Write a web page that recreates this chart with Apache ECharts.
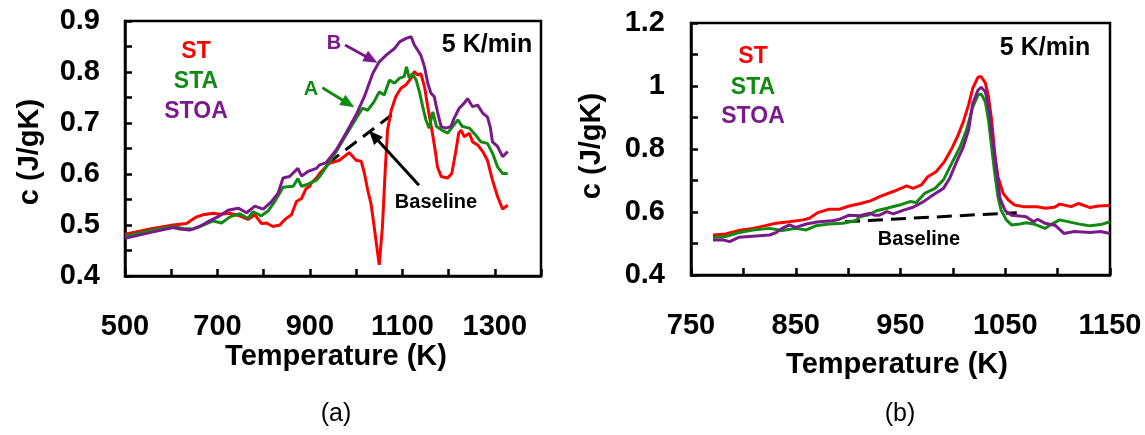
<!DOCTYPE html>
<html>
<head>
<meta charset="utf-8">
<script src="https://cdn.jsdelivr.net/npm/echarts@6/dist/echarts.min.js"></script>
<style>
html,body{margin:0;padding:0;background:#fff;}
#chart{width:1145px;height:435px;}
</style>
</head>
<body>
<div id="chart"></div>
<script>
// ---------- DATA ----------
// Panel (a): temperature (K), c (J/gK)
const aST = [[500,0.482],[554,0.492],[604,0.500],[633,0.503],[655,0.516],[669,0.520],[691,0.523],[705,0.521],[727,0.523],[748,0.518],[766,0.511],[781,0.520],[795,0.503],[806,0.504],[820,0.497],[835,0.500],[846,0.511],[860,0.520],[871,0.546],[882,0.552],[892,0.572],[899,0.575],[903,0.582],[914,0.592],[921,0.601],[942,0.621],[964,0.627],[985,0.642],[1000,0.627],[1011,0.625],[1018,0.601],[1025,0.569],[1032,0.543],[1039,0.497],[1050,0.422],[1057,0.497],[1063,0.608],[1068,0.686],[1076,0.725],[1086,0.752],[1097,0.768],[1108,0.775],[1119,0.788],[1126,0.801],[1133,0.794],[1140,0.797],[1148,0.771],[1155,0.732],[1164,0.686],[1171,0.647],[1176,0.614],[1184,0.595],[1198,0.592],[1207,0.601],[1215,0.641],[1222,0.680],[1227,0.686],[1234,0.673],[1245,0.680],[1252,0.663],[1263,0.657],[1274,0.644],[1284,0.627],[1295,0.588],[1306,0.556],[1317,0.531],[1328,0.539]];
const aSTA = [[500,0.478],[554,0.489],[604,0.497],[626,0.493],[647,0.492],[669,0.500],[691,0.508],[709,0.504],[727,0.516],[748,0.522],[766,0.513],[777,0.526],[795,0.518],[810,0.528],[824,0.546],[842,0.574],[864,0.576],[874,0.591],[882,0.576],[896,0.580],[914,0.588],[921,0.595],[935,0.614],[957,0.644],[978,0.676],[1000,0.709],[1014,0.729],[1025,0.725],[1039,0.742],[1050,0.761],[1061,0.755],[1072,0.784],[1083,0.778],[1094,0.788],[1104,0.791],[1109,0.810],[1115,0.788],[1122,0.797],[1130,0.784],[1137,0.761],[1144,0.732],[1151,0.706],[1158,0.690],[1166,0.722],[1174,0.693],[1186,0.686],[1198,0.680],[1209,0.693],[1220,0.706],[1230,0.693],[1245,0.690],[1259,0.676],[1270,0.663],[1284,0.660],[1295,0.641],[1306,0.614],[1317,0.601],[1328,0.601]];
const aSTOA = [[500,0.474],[554,0.485],[604,0.495],[618,0.492],[640,0.490],[662,0.497],[683,0.508],[705,0.518],[723,0.529],[745,0.533],[763,0.524],[781,0.537],[799,0.531],[817,0.546],[831,0.562],[842,0.592],[856,0.595],[874,0.611],[882,0.596],[896,0.605],[914,0.611],[921,0.618],[935,0.622],[957,0.647],[978,0.680],[1000,0.716],[1018,0.752],[1036,0.797],[1050,0.820],[1065,0.833],[1083,0.846],[1094,0.859],[1108,0.866],[1119,0.869],[1126,0.853],[1133,0.843],[1140,0.833],[1148,0.810],[1155,0.778],[1162,0.758],[1169,0.752],[1176,0.722],[1184,0.693],[1194,0.690],[1205,0.693],[1212,0.709],[1223,0.729],[1234,0.739],[1241,0.748],[1252,0.732],[1263,0.735],[1274,0.719],[1284,0.712],[1290,0.693],[1295,0.663],[1306,0.654],[1317,0.634],[1328,0.644]];
const aBaseline = [[939,0.621],[1086,0.722]];
const aArrowB = [[976,0.853],[1046,0.818]];
const aArrowA = [[927,0.769],[996,0.731]];
const aArrowBase = [[1136,0.578],[1028,0.685]];

// Panel (b)
const bST = [[771,0.527],[783,0.530],[795,0.541],[809,0.548],[820,0.556],[831,0.564],[844,0.569],[857,0.575],[863,0.580],[871,0.598],[882,0.609],[892,0.609],[901,0.619],[911,0.626],[922,0.636],[930,0.649],[943,0.665],[956,0.683],[962,0.675],[970,0.686],[976,0.712],[984,0.728],[992,0.760],[999,0.802],[1005,0.844],[1010,0.887],[1015,0.940],[1019,0.993],[1024,1.028],[1027,1.030],[1031,1.009],[1034,0.966],[1037,0.892],[1040,0.786],[1043,0.712],[1048,0.659],[1053,0.638],[1059,0.622],[1067,0.617],[1080,0.617],[1088,0.612],[1097,0.615],[1102,0.625],[1113,0.617],[1120,0.627],[1131,0.614],[1139,0.619],[1150,0.621]];
const bSTA = [[771,0.520],[783,0.522],[795,0.534],[809,0.543],[825,0.548],[837,0.541],[850,0.548],[860,0.543],[869,0.556],[882,0.562],[895,0.564],[907,0.572],[911,0.585],[919,0.590],[927,0.604],[937,0.612],[949,0.622],[959,0.633],[965,0.630],[973,0.659],[983,0.675],[991,0.702],[999,0.755],[1007,0.807],[1013,0.860],[1019,0.934],[1024,0.971],[1027,0.975],[1031,0.950],[1034,0.892],[1037,0.807],[1040,0.723],[1043,0.649],[1046,0.606],[1051,0.575],[1056,0.559],[1064,0.562],[1070,0.566],[1077,0.562],[1088,0.548],[1093,0.559],[1102,0.575],[1113,0.567],[1123,0.560],[1131,0.556],[1141,0.560],[1150,0.569]];
const bSTOA = [[771,0.511],[780,0.512],[787,0.506],[796,0.520],[812,0.524],[825,0.527],[831,0.534],[837,0.548],[844,0.559],[850,0.551],[860,0.562],[872,0.569],[885,0.572],[892,0.577],[901,0.590],[911,0.588],[921,0.596],[925,0.590],[930,0.590],[937,0.601],[943,0.594],[953,0.606],[962,0.615],[972,0.633],[981,0.654],[991,0.675],[997,0.707],[1003,0.755],[1010,0.807],[1015,0.860],[1019,0.945],[1024,0.987],[1027,0.996],[1031,0.982],[1035,0.918],[1038,0.829],[1042,0.723],[1045,0.643],[1050,0.604],[1056,0.590],[1064,0.587],[1070,0.585],[1077,0.569],[1081,0.577],[1088,0.564],[1098,0.557],[1106,0.532],[1116,0.538],[1131,0.535],[1141,0.538],[1150,0.532]];
const bBaseline = [[897,0.569],[1061,0.598]];

const seriesNames = ['ST','STA','STOA'];
const xTitle = 'Temperature (K)';
const yTitle = 'c (J/gK)';
const rateText = '5 K/min';
const panelLabels = ['(a)','(b)'];

// ---------- STYLE ----------
const RED = '#ff0000', GREEN = '#108a10', PURPLE = '#7a1a8a';
const FONT = "'Liberation Sans', Arial, sans-serif";
const TICK_FS = 29;
const chart = echarts.init(document.getElementById('chart'), null, {renderer:'canvas'});

function xAxis(grid, min, max, interval, labelEvery) {
  return {
    type:'value', gridIndex:grid, min:min, max:max, interval:interval,
    axisLine:{show:true, onZero:false, lineStyle:{color:'#000', width:2.5}},
    axisTick:{show:true, inside:true, length:7, lineStyle:{color:'#000', width:2.5}},
    splitLine:{show:false},
    axisLabel:{margin:36, color:'#000', fontFamily:FONT, fontWeight:'bold', fontSize:TICK_FS,
      showMaxLabel:true, showMinLabel:true,
      formatter:function(v){ return (Math.round(v-min) % labelEvery === 0) ? String(Math.round(v)) : ''; }}
  };
}
function yAxis(grid, min, max, interval, labelStep, margin) {
  return {
    type:'value', gridIndex:grid, min:min, max:max, interval:interval,
    axisLine:{show:true, onZero:false, lineStyle:{color:'#000', width:2.5}},
    axisTick:{show:true, inside:true, length:7, lineStyle:{color:'#000', width:2.5}},
    splitLine:{show:false},
    axisLabel:{margin:margin, color:'#000', fontFamily:FONT, fontWeight:'bold', fontSize:TICK_FS,
      showMaxLabel:true, showMinLabel:true,
      formatter:function(v){
        const k = Math.round(v*100);
        return (k % labelStep === 0) ? String(Math.round(v*10)/10) : '';
      }}
  };
}
function line(name, data, color, xi, width) {
  return {
    name:name, type:'line', xAxisIndex:xi, yAxisIndex:xi, data:data,
    showSymbol:false, symbol:'none', smooth:false, silent:true,
    lineStyle:{color:color, width:width||3}, itemStyle:{color:color},
    emphasis:{disabled:true}, animation:false
  };
}
function txt(x, y, text, color, size, weight, rot) {
  return {type:'text', x:x, y:y, rotation:rot||0, silent:true, z:100,
    style:{text:text, x:0, y:0, fill:color, font:(weight||'bold')+' '+size+'px '+FONT,
      align:'center', verticalAlign:'middle', textAlign:'center', textVerticalAlign:'middle'}};
}

const baseA = line('Baseline', aBaseline, '#000', 0, 3);
baseA.lineStyle.type = [14, 8];
const baseB = line('Baseline', bBaseline, '#000', 1, 3);
baseB.lineStyle.type = [15, 8];

const graphics = [
  // panel (a)
  txt(336, 357, xTitle, '#000', 29),
  txt(30, 152, yTitle, '#000', 29, 'bold', Math.PI/2),
  txt(196, 52, seriesNames[0], RED, 23),
  txt(196, 82, seriesNames[1], GREEN, 23),
  txt(196, 112, seriesNames[2], PURPLE, 23),
  txt(487, 45, rateText, '#000', 25),
  txt(334, 43, 'B', PURPLE, 20),
  txt(311, 89, 'A', GREEN, 20),
  txt(436, 202, 'Baseline', '#000', 20),
  txt(336, 414, panelLabels[0], '#000', 25, 'normal'),
  // panel (b)
  txt(897, 365, xTitle, '#000', 29),
  txt(592, 146, yTitle, '#000', 29, 'bold', Math.PI/2),
  txt(753, 57, seriesNames[0], RED, 23),
  txt(753, 88, seriesNames[1], GREEN, 23),
  txt(753, 117, seriesNames[2], PURPLE, 23),
  txt(1045, 48, rateText, '#000', 25),
  txt(919, 239, 'Baseline', '#000', 20),
  txt(900, 414, panelLabels[1], '#000', 25, 'normal')
];

const option = {
  animation:false,
  backgroundColor:'#fff',
  grid:[
    {left:125, top:21, width:416, height:255, show:true, borderColor:'#000', borderWidth:2.5, backgroundColor:'transparent'},
    {left:691, top:23, width:419, height:252, show:true, borderColor:'#000', borderWidth:2.5, backgroundColor:'transparent'}
  ],
  xAxis:[ xAxis(0, 500, 1400, 100, 200), xAxis(1, 750, 1150, 50, 100) ],
  yAxis:[ yAxis(0, 0.4, 0.9, 0.05, 10, 25), yAxis(1, 0.4, 1.2, 0.1, 20, 26) ],
  series:[baseA, line(seriesNames[0], aST, RED, 0), line(seriesNames[1], aSTA, GREEN, 0), line(seriesNames[2], aSTOA, PURPLE, 0),
          baseB, line(seriesNames[0], bST, RED, 1), line(seriesNames[1], bSTA, GREEN, 1), line(seriesNames[2], bSTOA, PURPLE, 1)],
  graphic:graphics
};
chart.setOption(option);

// arrows placed through the axes' own scales
function arrowGraphic(pts, color, gi) {
  const p0 = chart.convertToPixel({xAxisIndex:gi, yAxisIndex:gi}, pts[0]);
  const p1 = chart.convertToPixel({xAxisIndex:gi, yAxisIndex:gi}, pts[1]);
  const dx = p1[0]-p0[0], dy = p1[1]-p0[1];
  const len = Math.sqrt(dx*dx+dy*dy);
  const ux = dx/len, uy = dy/len, nx = -uy, ny = ux;
  const L = 14, W = 12;
  const bx = p1[0]-ux*L, by = p1[1]-uy*L;
  return [
    {type:'line', silent:true, z:90, shape:{x1:p0[0], y1:p0[1], x2:bx+ux*2, y2:by+uy*2},
      style:{stroke:color, lineWidth:3}},
    {type:'polygon', silent:true, z:90, shape:{points:[[p1[0],p1[1]],[bx+nx*W/2,by+ny*W/2],[bx-nx*W/2,by-ny*W/2]]},
      style:{fill:color}}
  ];
}
const arrows = [].concat(
  arrowGraphic(aArrowB, PURPLE, 0),
  arrowGraphic(aArrowA, GREEN, 0),
  arrowGraphic(aArrowBase, '#000', 0)
);
chart.setOption({graphic: graphics.concat(arrows)});
</script>
</body>
</html>
